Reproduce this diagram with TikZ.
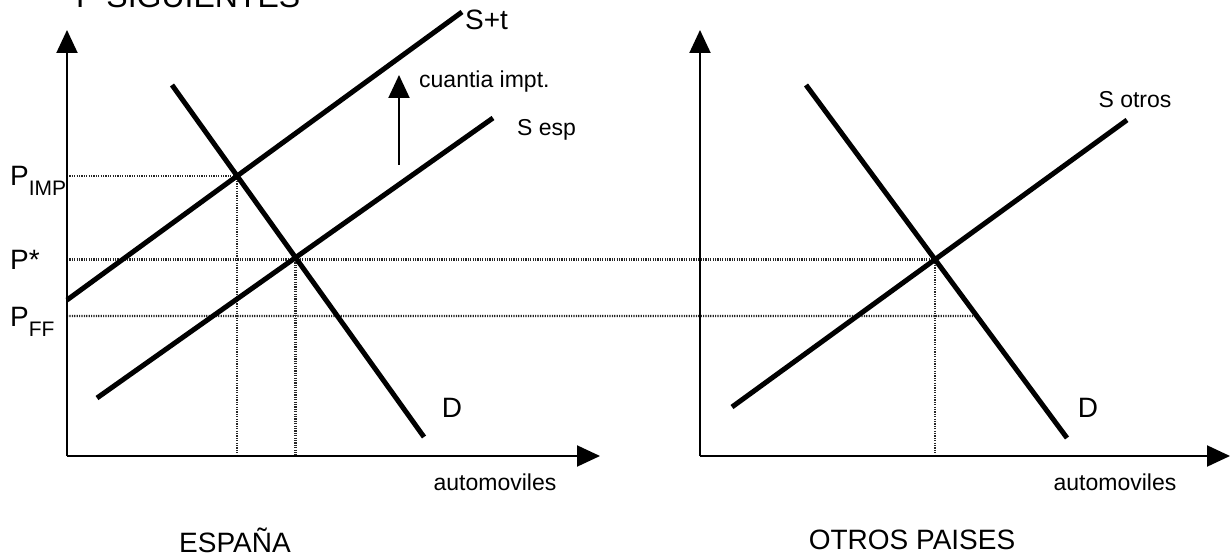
\documentclass[tikz,border=0pt]{standalone}
\usepackage{fontspec}
\setmainfont{Liberation Sans}
\usetikzlibrary{arrows.meta, calc}
\newcommand{\plbl}[1]{P\raisebox{-10pt}{\fontsize{21}{21}\selectfont #1}}

\begin{document}
\begin{tikzpicture}[
        x=1pt, y=-1pt,
        axis/.style={draw, line width=2pt, -{Triangle[length=23pt, width=21pt]}},
        curve/.style={draw, line width=5pt},
        guide/.style={draw, line width=2.4pt, black!85, dash pattern=on 1.2pt off 1.2pt},
        big/.style={inner sep=0pt, font=\fontsize{28}{30}\selectfont},
        small/.style={inner sep=0pt, font=\fontsize{23}{25}\selectfont}
    ]
        \useasboundingbox (0,0) rectangle (1231,556);

        % axes
        \coordinate (oL) at (67,456);
        \coordinate (yL) at (67,30);
        \coordinate (xL) at (600,456);
        \coordinate (oR) at (700,456);
        \coordinate (yR) at (700,30);
        \coordinate (xR) at (1230,456);
        \coordinate (lx) at (10,0);

        % curves
        \coordinate (st1) at (67,300);
        \coordinate (st2) at (462,12);
        \coordinate (se1) at (97,398);
        \coordinate (se2) at (493,118);
        \coordinate (dl1) at (172,85);
        \coordinate (dl2) at (424,437);
        \coordinate (dr1) at (806,85);
        \coordinate (dr2) at (1067,438);
        \coordinate (so1) at (732,407);
        \coordinate (so2) at (1127,120);
        \coordinate (tx1) at (399,165);
        \coordinate (tx2) at (399,75);
        \coordinate (ff1) at (67,316);
        \coordinate (ff2) at (1200,316);

        \coordinate (eqImp) at (intersection of st1--st2 and dl1--dl2);
        \coordinate (eqL) at (intersection of se1--se2 and dl1--dl2);
        \coordinate (eqR) at (intersection of so1--so2 and dr1--dr2);
        \coordinate (eqFF) at (intersection of ff1--ff2 and dr1--dr2);

        % guide lines
        \path [guide] (oL |- eqImp) -- (eqImp) -- (eqImp |- oL);
        \path [guide] (oL |- eqR) -- (eqR) -- (eqR |- oR);
        \path [guide] (eqL) -- (eqL |- oL);
        \path [guide] (ff1) -- (eqFF);

        \path [axis] (oL) -- (yL);
        \path [axis] (oL) -- (xL);
        \path [axis] (oR) -- (yR);
        \path [axis] (oR) -- (xR);

        \path [curve] (st1) -- (st2);
        \path [curve] (se1) -- (se2);
        \path [curve] (dl1) -- (dl2);
        \path [curve] (dr1) -- (dr2);
        \path [curve] (so1) -- (so2);
        \path [axis] (tx1) -- (tx2);

        % labels
        \node [big, anchor=base west, font=\fontsize{32}{34}\selectfont] (ptitle) at (76,8) {P SIGUIENTES};
        \node [big, anchor=base west] (pimp) at ($(eqImp -| lx)+(0,10)$) {\plbl{IMP}};
        \node [big, anchor=base west] (pstar) at ($(eqR -| lx)+(0,10)$) {P*};
        \node [big, anchor=base west] (pff) at ($(ff1 -| lx)+(0,10)$) {\plbl{FF}};
        \node [big, anchor=west] (stlbl) at (465,20) {S+t};
        \node [small, anchor=west] (txlbl) at (419,82) {cuantia impt.};
        \node [small, anchor=west] (selbl) at (517,130) {S esp};
        \node [big] (dllbl) at (452,408) {D};
        \node [big] (drlbl) at (1088,408) {D};
        \node [small] (solbl) at (1135,100) {S otros};
        \node [small] (xllbl) at (495,482) {automoviles};
        \node [small] (xrlbl) at (1115,482) {automoviles};
        \node [big] (esp) at (235,540) {ESPAÑA};
        \node [big] (otros) at (912,540) {OTROS PAISES};
    \end{tikzpicture}
\end{document}
